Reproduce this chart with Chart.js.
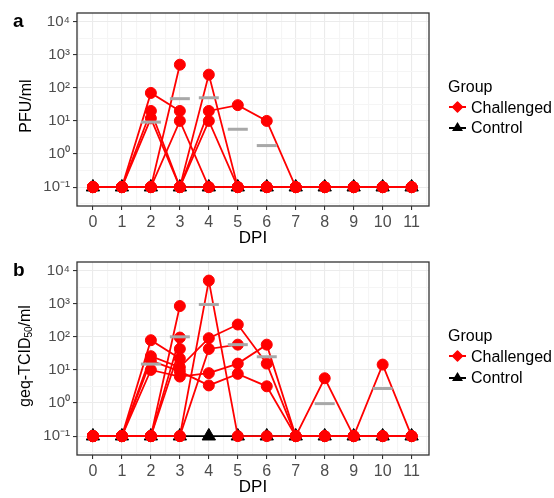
<!DOCTYPE html>
<html>
<head>
<meta charset="utf-8">
<script src="https://cdn.jsdelivr.net/npm/chart.js@4.4.1/dist/chart.umd.min.js"></script>
<style>
  body { margin: 0; background: #fff; font-family: 'Liberation Sans', Arial, sans-serif; }
  #wrap { position: relative; width: 554px; height: 498px; overflow: hidden; }
  .panel { position: absolute; left: 0; width: 554px; height: 249px; }
  .panel canvas { display: block; }
  .tag { position: absolute; left: 13px; font-size: 19px; line-height: 19px; font-weight: bold; color: #000; }
  .ytitle { position: absolute; font-size: 16px; line-height: 18px; white-space: nowrap; color: #000;
            transform: translate(-50%, -50%) rotate(-90deg); }
  .ytitle sub { font-size: 10px; vertical-align: -2px; }
  .lg { position: absolute; left: 448px; font-size: 16px; line-height: 18px; color: #000; white-space: nowrap; }
  .lg svg { position: absolute; left: 0; top: 1px; }
  .lg span { position: absolute; left: 23px; top: 0; }
</style>
</head>
<body>
<div id="wrap">
  <div class="panel" style="top:0"><canvas id="chart-a" width="554" height="249"></canvas></div>
  <div class="panel" style="top:249px"><canvas id="chart-b" width="554" height="249"></canvas></div>

  <div class="tag" style="top:11px">a</div>
  <div class="tag" style="top:260px">b</div>

  <div class="ytitle" style="left:26px;top:106px">PFU/ml</div>
  <div class="ytitle" style="left:27px;top:356px">geq-TCID<sub>50</sub>/ml</div>

  <!-- legend a -->
  <div class="lg" style="top:78px">Group</div>
  <div class="lg" style="top:99px;width:100px;height:18px">
    <svg width="20" height="16"><line x1="1" y1="7" x2="18" y2="7" stroke="#ff0000" stroke-width="2"/><polygon points="9.5,2 14.5,7 9.5,12 4.5,7" fill="#ff0000" stroke="#ff0000" stroke-width="1.5" stroke-linejoin="round"/></svg>
    <span>Challenged</span>
  </div>
  <div class="lg" style="top:119px;width:100px;height:18px">
    <svg width="20" height="16"><line x1="1" y1="8" x2="18" y2="8" stroke="#000" stroke-width="2"/><polygon points="9.5,2 15,11 4,11" fill="#000"/></svg>
    <span>Control</span>
  </div>

  <!-- legend b -->
  <div class="lg" style="top:327px">Group</div>
  <div class="lg" style="top:348px;width:100px;height:18px">
    <svg width="20" height="16"><line x1="1" y1="7" x2="18" y2="7" stroke="#ff0000" stroke-width="2"/><polygon points="9.5,2 14.5,7 9.5,12 4.5,7" fill="#ff0000" stroke="#ff0000" stroke-width="1.5" stroke-linejoin="round"/></svg>
    <span>Challenged</span>
  </div>
  <div class="lg" style="top:369px;width:100px;height:18px">
    <svg width="20" height="16"><line x1="1" y1="8" x2="18" y2="8" stroke="#000" stroke-width="2"/><polygon points="9.5,2 15,11 4,11" fill="#000"/></svg>
    <span>Control</span>
  </div>
</div>

<script>
'use strict';

/* ── 데이터 ── */
const DPI = [0, 1, 2, 3, 4, 5, 6, 7, 8, 9, 10, 11];

// 대조군 (검출한계)
const CONTROL_A = [0.1, 0.1, 0.1, 0.1, 0.1, 0.1, 0.1, 0.1, 0.1, 0.1, 0.1, 0.1];
const CONTROL_B = [0.1, 0.1, 0.1, 0.1, 0.1, 0.1, 0.1, 0.1, 0.1, 0.1, 0.1, 0.1];

// a: PFU/ml, 개체별
const PFU_1 = [0.1, 0.1, 70, 20];
const PFU_2 = [0.1, 0.1, 20, 0.1, 250, 0.1, 0.1, 0.1, 0.1, 0.1, 0.1, 0.1];
const PFU_3 = [0.1, 0.1, 12, 0.1, 20, 30, 10, 0.1, 0.1, 0.1, 0.1, 0.1];
const PFU_4 = [0.1, 0.1, 0.1, 500];
const PFU_5 = [0.1, 0.1, 0.1, 10, 0.1, 0.1, 0.1, 0.1, 0.1, 0.1, 0.1, 0.1];
const PFU_6 = [0.1, 0.1, 0.1, 0.1, 10, 0.1, 0.1, 0.1, 0.1, 0.1, 0.1, 0.1];
const PFU_7 = [0.1, 0.1, 0.1, 0.1, 0.1, 0.1, 0.1, 0.1, 0.1, 0.1, 0.1, 0.1];
const PFU_MEAN = [null, null, 9.2, 47, 50, 5.6, 1.8, null, null, null, null, null];

// b: geq-TCID50/ml, 개체별
const GEQ_1 = [0.1, 0.1, 0.1, 0.1, 5000, 0.1, 0.1, 0.1, 5.6, 0.1, 14.5, 0.1];
const GEQ_2 = [0.1, 0.1, 26, 12, 91, 235, 15.5, 0.1, 0.1, 0.1, 0.1, 0.1];
const GEQ_3 = [0.1, 0.1, 0.1, 0.1, 43, 58];
const GEQ_4 = [0.1, 0.1, 10, 6.3, 8, 15.5, 58, 0.1, 0.1, 0.1, 0.1, 0.1];
const GEQ_5 = [0.1, 0.1, 19, 9, 3.4, 7.6, 3.2, 0.1, 0.1, 0.1, 0.1, 0.1];
const GEQ_6 = [0.1, 0.1, 79, 22];
const GEQ_7 = [0.1, 0.1, 0.1, 850];
const GEQ_8 = [0.1, 0.1, 0.1, 95];
const GEQ_9 = [0.1, 0.1, 0.1, 43];
const GEQ_MEAN = [null, null, 15, 100, 950, 58, 25, null, 0.96, null, 2.75, null];

const COLORS = {
  challenged: '#ff0000',
  control   : '#000000',
  mean      : '#a8a8a8',
  gridMajor : '#ebebeb',
  gridMinor : '#f5f5f5',
  border    : '#333333',
  tick      : '#4d4d4d',
};

const FONT = "'Liberation Sans', Arial, sans-serif";
const SUP = { '-': '⁻', '0': '⁰', '1': '¹', '2': '²', '3': '³', '4': '⁴' };

function toPoints(values) {
  return values.map((v, i) => ({ x: DPI[i], y: v })).filter(p => p.y !== null);
}

function isMajorLog(v) {
  return Number.isInteger(Math.round(Math.log10(v) * 2) / 2);
}

const panelBorder = {
  id: 'panelBorder',
  afterDraw(chart) {
    const { ctx, chartArea: a } = chart;
    ctx.save();
    ctx.strokeStyle = COLORS.border;
    ctx.lineWidth = 1.3;
    ctx.strokeRect(a.left, a.top, a.right - a.left, a.bottom - a.top);
    ctx.restore();
  },
};

function drawPanel(canvasId, animals, means, control) {
  const datasets = [];
  // 평균 (회색 막대) — 맨 위에 그림
  datasets.push({
    data: toPoints(means),
    showLine: false,
    pointStyle: 'line',
    pointRadius: 10,
    pointBorderWidth: 3,
    pointBorderColor: COLORS.mean,
  });
  animals.forEach(vals => {
    datasets.push({
      data: toPoints(vals),
      borderColor: COLORS.challenged,
      borderWidth: 1.8,
      pointStyle: 'circle',
      pointRadius: 5.5,
      pointBackgroundColor: COLORS.challenged,
      pointBorderColor: COLORS.challenged,
      pointBorderWidth: 1,
    });
  });
  datasets.push({
    data: toPoints(control),
    borderColor: COLORS.control,
    borderWidth: 1.8,
    pointStyle: 'triangle',
    pointRadius: 7.7,
    pointBackgroundColor: COLORS.control,
    pointBorderColor: COLORS.control,
    pointBorderWidth: 1,
  });

  new Chart(document.getElementById(canvasId), {
    type: 'line',
    data: { datasets },
    plugins: [panelBorder],
    options: {
      responsive: false, animation: false,
      layout: { padding: { left: 0, right: 125, top: 8, bottom: 0 } },
      plugins: { legend: { display: false }, tooltip: { enabled: false } },
      scales: {
        x: {
          type: 'linear', min: -0.55, max: 11.6,
          afterBuildTicks: s => {
            const t = [];
            for (let v = -0.5; v <= 11.5; v += 0.5) t.push({ value: v });
            s.ticks = t;
          },
          afterFit: s => { s.height = 43; },
          ticks: {
            autoSkip: false, maxRotation: 0, padding: 3,
            color: COLORS.tick, font: { family: FONT, size: 16 },
            callback: v => Number.isInteger(v) ? String(v) : '',
          },
          grid: {
            color: c => Number.isInteger(c.tick.value) ? COLORS.gridMajor : COLORS.gridMinor,
            tickColor: c => Number.isInteger(c.tick.value) ? COLORS.border : 'rgba(0,0,0,0)',
            tickLength: 4, lineWidth: 1.1,
          },
          border: { display: false },
          title: {
            display: true, text: 'DPI', color: '#000',
            font: { family: FONT, size: 17 },
            padding: { top: 0, bottom: 0 },
          },
        },
        y: {
          type: 'logarithmic', min: Math.pow(10, -1.57), max: Math.pow(10, 4.26),
          afterBuildTicks: s => {
            const t = [];
            for (let k = -1.5; k <= 4; k += 0.5) t.push({ value: Math.pow(10, k) });
            s.ticks = t;
          },
          afterFit: s => { s.width = 77; },
          ticks: {
            autoSkip: false, padding: 3,
            color: COLORS.tick, font: { family: FONT, size: 15 },
            callback: v => {
              if (!isMajorLog(v)) return '';
              const k = Math.round(Math.log10(v));
              return '10' + String(k).split('').map(ch => SUP[ch]).join('');
            },
          },
          grid: {
            color: c => isMajorLog(c.tick.value) ? COLORS.gridMajor : COLORS.gridMinor,
            tickColor: c => isMajorLog(c.tick.value) ? COLORS.border : 'rgba(0,0,0,0)',
            tickLength: 4, lineWidth: 1.1,
          },
          border: { display: false },
        },
      },
    },
  });
}

drawPanel('chart-a', [PFU_1, PFU_2, PFU_3, PFU_4, PFU_5, PFU_6, PFU_7], PFU_MEAN, CONTROL_A);
drawPanel('chart-b', [GEQ_1, GEQ_2, GEQ_3, GEQ_4, GEQ_5, GEQ_6, GEQ_7, GEQ_8, GEQ_9], GEQ_MEAN, CONTROL_B);
</script>
</body>
</html>
